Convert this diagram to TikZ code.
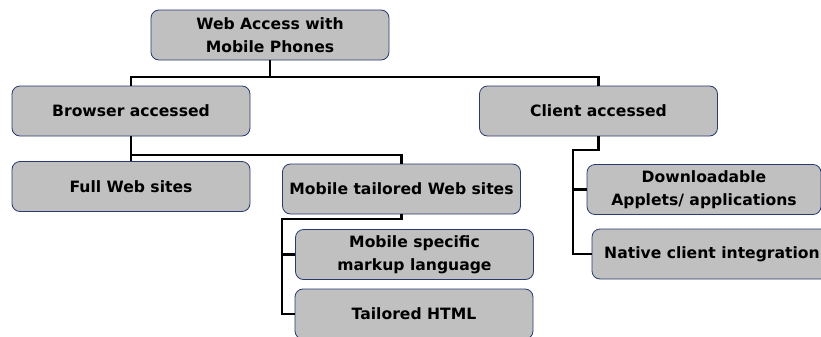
\documentclass[tikz,border=0pt]{standalone}
\usepackage{fontspec}
\setmainfont{DejaVu Sans}
\definecolor{boxgray}{RGB}{192,192,192}
\definecolor{boxline}{RGB}{40,58,110}
\tikzset{
	leaf/.style={draw=boxline,line width=0.6pt,fill=boxgray,rounded corners=6pt,
		minimum width=178.5pt,minimum height=37.5pt,inner sep=1pt,align=center,
		font=\bfseries\fontsize{11.7}{17.5}\selectfont},
	wire/.style={line width=1.6pt,black},
}
\begin{document}
\begin{tikzpicture}[x=0.75pt,y=0.75pt,yscale=-1,xscale=1]
		\useasboundingbox (0,0) rectangle (821,336);
		\clip (0,0) rectangle (821,336);
		% boxes
		\node [leaf] (root) at (270,35) {Web Access with\\Mobile Phones};
		\node [leaf] (browser) at (131,111) {Browser accessed};
		\node [leaf] (client) at (598.5,111) {Client accessed};
		\node [leaf] (full) at (131,186.5) {Full Web sites};
		\node [leaf] (tailored) at (401.5,189) {Mobile tailored Web sites};
		\node [leaf] (markup) at (414.5,254.5) {Mobile specific\\markup language};
		\node [leaf] (html) at (414,314) {Tailored HTML};
		\node [leaf,minimum width=175.5pt] (applets) at (704,189.5) {Downloadable\\Applets/ applications};
		\node [leaf,minimum width=180pt] (native) at (712,254) {Native client integration};
		% connectors
		\draw [wire] (root.south) -- ++(0,17) coordinate (rootbus) -| (browser.north);
		\draw [wire] (rootbus) -| (client.north);
		\draw [wire] (browser.south) -- (full.north);
		\draw [wire] (browser.south) ++(0,19) coordinate (browserbus) -| (tailored.north);
		\draw [wire] (tailored.south) -- ++(0,5) -| ([xshift=-9.75pt]markup.west) coordinate (markupbus) -- (markup.west);
		\draw [wire] (markupbus) |- (html.west);
		\draw [wire] (client.south) -- ++(0,14) -| ([xshift=-10.5pt]applets.west) coordinate (clientbus) -- (applets.west);
		\draw [wire] (clientbus) |- (native.west);
	\end{tikzpicture}
\end{document}
